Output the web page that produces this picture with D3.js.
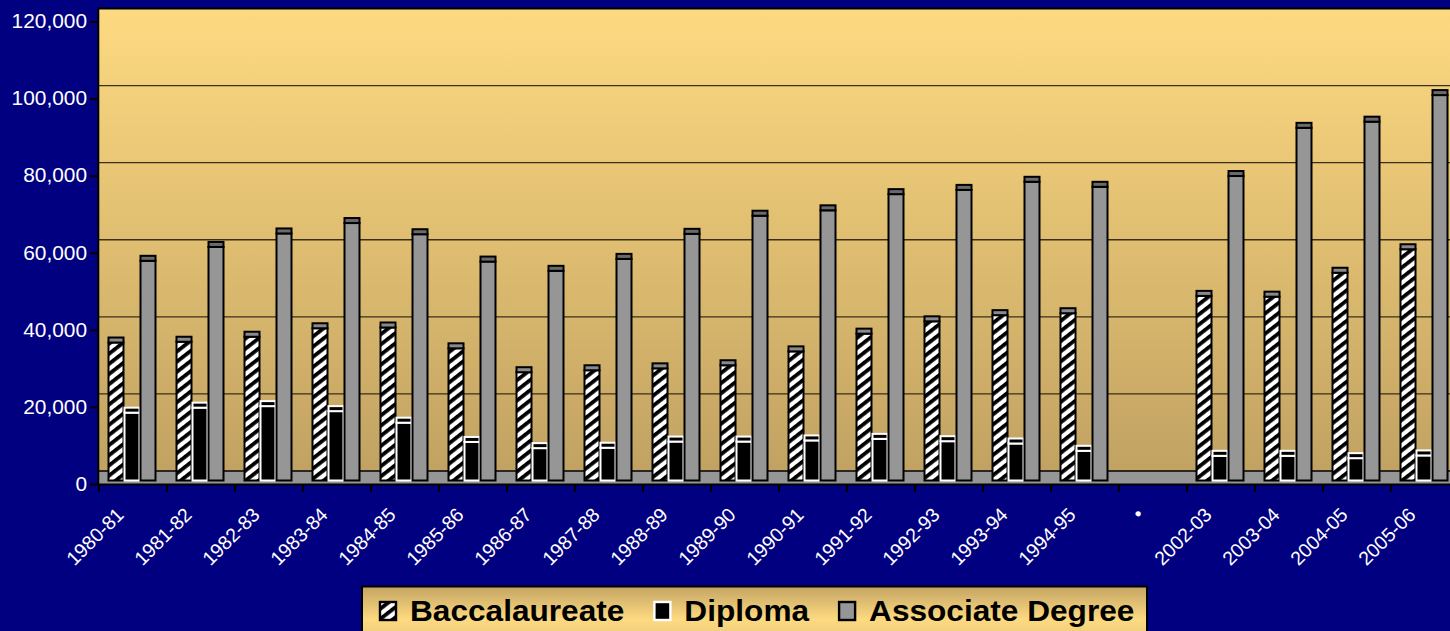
<!DOCTYPE html>
<html>
<head>
<meta charset="utf-8">
<script src="https://cdn.jsdelivr.net/npm/d3@7"></script>
<style>
  body { margin: 0; background: #000080; overflow: hidden; }
  text { font-family: Arial, "Liberation Sans", sans-serif; }
</style>
</head>
<body>
<svg id="chart" width="1450" height="631"></svg>
<script>
// values (gap category "•" has no bars)
const categories = ["1980-81","1981-82","1982-83","1983-84","1984-85","1985-86","1986-87","1987-88",
  "1988-89","1989-90","1990-91","1991-92","1992-93","1993-94","1994-95","•",
  "2002-03","2003-04","2004-05","2005-06"];
const baccalaureate = [35800,36000,37300,39500,39700,34300,28100,28600,29100,29900,33500,38100,
  41300,42900,43400,null,47900,47700,53900,60000];
const diploma = [17600,18900,19300,18000,15000,10000,8400,8500,10100,10100,10400,10800,
  10200,9600,7700,null,6400,6400,5800,6500];
const associate = [57000,60600,64100,66800,63900,56800,54400,57500,64000,68700,70100,74300,
  75400,77500,76200,null,79000,91500,93100,100000];
const seriesNames = ["Baccalaureate","Diploma","Associate Degree"];
const yTicks = [0,20000,40000,60000,80000,100000,120000];

const seriesValues = [baccalaureate, diploma, associate];
const style = {
  "Baccalaureate":    {fill: "url(#hatch)", stroke: "#000", cap: "#8a8a8a"},
  "Diploma":          {fill: "#000",        stroke: "#fff", cap: "#000"},
  "Associate Degree": {fill: "#969696",     stroke: "#000", cap: "#6a6a6a"}
};

const svg = d3.select("#chart"),
    width = +svg.attr("width"),
    height = +svg.attr("height");

const depth = 13;      // back wall offset of the 3d look
const inset = 3.5;     // bars stand a bit behind the front edge
const capH = 5;

const x = d3.scaleBand().domain(categories).range([99, 99 + 68 * categories.length]);
const x1 = d3.scaleBand().domain(seriesNames).range([9, 57]);
const y = d3.scaleLinear().domain([0, 120000]).range([484, 21.5]);

// the picture is a bit wider than plain Arial, so widen text a little
function stretch(sel, k) {
  sel.each(function() {
    const l = this.getComputedTextLength();
    this.setAttribute("textLength", l * k);
    this.setAttribute("lengthAdjust", "spacingAndGlyphs");
  });
}

svg.append("rect").attr("width", width).attr("height", height).attr("fill", "#000080");

const defs = svg.append("defs");
const wallGrad = defs.append("linearGradient").attr("id", "wall")
    .attr("x1", 0).attr("y1", 0).attr("x2", 0).attr("y2", 1);
wallGrad.append("stop").attr("offset", "0%").attr("stop-color", "#fdda81");
wallGrad.append("stop").attr("offset", "100%").attr("stop-color", "#c2a262");

const legGrad = defs.append("linearGradient").attr("id", "leg")
    .attr("x1", 0).attr("y1", 0).attr("x2", 0).attr("y2", 1);
legGrad.append("stop").attr("offset", "0%").attr("stop-color", "#c4a464");
legGrad.append("stop").attr("offset", "55%").attr("stop-color", "#fdda81");
legGrad.append("stop").attr("offset", "100%").attr("stop-color", "#e6c577");

const hatch = defs.append("pattern").attr("id", "hatch")
    .attr("patternUnits", "userSpaceOnUse")
    .attr("width", 8).attr("height", 8)
    .attr("patternTransform", "rotate(52)");
hatch.append("rect").attr("width", 8).attr("height", 8).attr("fill", "#fff");
hatch.append("rect").attr("width", 3.8).attr("height", 8).attr("fill", "#000");

const xRight = x.range()[1];

// back wall
svg.append("rect")
    .attr("x", 99).attr("y", y(120000) - depth)
    .attr("width", xRight - 99).attr("height", y(0) - y(120000))
    .attr("fill", "url(#wall)");

// gridlines on the back wall
svg.append("g").selectAll("line")
  .data(yTicks.filter(d => d > 0 && d < 120000))
  .enter().append("line")
    .attr("x1", 99).attr("x2", xRight)
    .attr("y1", d => y(d) - depth).attr("y2", d => y(d) - depth)
    .attr("stroke", "#3a3018").attr("stroke-width", 1.4);

// floor
svg.append("rect")
    .attr("x", 99).attr("y", y(0) - depth)
    .attr("width", xRight - 99).attr("height", depth)
    .attr("fill", "#969696");
svg.append("line")
    .attr("x1", 99).attr("x2", xRight)
    .attr("y1", y(0) - depth).attr("y2", y(0) - depth)
    .attr("stroke", "#000").attr("stroke-width", 1.5);

// bars
const base = y(0) - inset;
seriesNames.forEach((s, si) => {
  const st = style[s];
  const data = categories.map((c, i) => ({c: c, v: seriesValues[si][i]})).filter(d => d.v != null);
  const g = svg.append("g").attr("class", "series");
  const bar = g.selectAll("g").data(data).enter().append("g");
  bar.append("rect")
      .attr("x", d => x(d.c) + x1(s) + 0.5)
      .attr("y", d => y(d.v) - inset)
      .attr("width", 15)
      .attr("height", d => base - (y(d.v) - inset))
      .attr("fill", st.fill).attr("stroke", st.stroke).attr("stroke-width", 2);
  bar.append("rect")
      .attr("x", d => x(d.c) + x1(s) + 0.5)
      .attr("y", d => y(d.v) - inset - capH)
      .attr("width", 15)
      .attr("height", capH)
      .attr("fill", st.cap).attr("stroke", st.stroke).attr("stroke-width", 2);
});

// plot frame
svg.append("line").attr("x1", 98).attr("x2", xRight)
    .attr("y1", y(120000) - depth).attr("y2", y(120000) - depth)
    .attr("stroke", "#000").attr("stroke-width", 2);
svg.append("line").attr("x1", 98.3).attr("x2", 98.3)
    .attr("y1", y(120000) - depth - 1).attr("y2", y(0) + 1)
    .attr("stroke", "#000").attr("stroke-width", 2);
svg.append("line").attr("x1", 97).attr("x2", xRight)
    .attr("y1", y(0) + 0.5).attr("y2", y(0) + 0.5)
    .attr("stroke", "#000").attr("stroke-width", 2);

// y axis
const yAxis = svg.append("g")
    .attr("transform", "translate(99,0)")
    .call(d3.axisLeft(y).tickValues(yTicks).tickFormat(d3.format(",")).tickSize(9).tickPadding(3));
yAxis.select(".domain").remove();
yAxis.selectAll(".tick line").attr("stroke", "#000").attr("stroke-width", 2);
yAxis.selectAll(".tick text")
    .attr("fill", "#fff").attr("font-size", 19.5)
    .attr("font-family", "Arial, 'Liberation Sans', sans-serif")
    .call(stretch, 1.07);

// x ticks at category boundaries
svg.append("g").selectAll("line")
  .data(categories.concat([null]))
  .enter().append("line")
    .attr("x1", (d, i) => x.range()[0] + i * x.step())
    .attr("x2", (d, i) => x.range()[0] + i * x.step())
    .attr("y1", y(0)).attr("y2", y(0) + 8)
    .attr("stroke", "#000").attr("stroke-width", 2);

// x labels
svg.append("g").selectAll("text")
  .data(categories)
  .enter().append("text")
    .attr("transform", d => "translate(" + (x(d) + x.bandwidth() / 2 - 8) + ",516) rotate(-45)")
    .attr("text-anchor", "end")
    .attr("fill", "#fff")
    .attr("font-size", 19.5)
    .text(d => d);

// legend
const legend = svg.append("g");
legend.append("rect")
    .attr("x", 362).attr("y", 586.5)
    .attr("width", 785).attr("height", 60)
    .attr("fill", "url(#leg)").attr("stroke", "#000").attr("stroke-width", 2);

let lx = 380;
seriesNames.forEach(s => {
  const st = style[s];
  legend.append("rect")
      .attr("x", lx).attr("y", 602)
      .attr("width", 16).attr("height", 18)
      .attr("fill", st.fill).attr("stroke", st.stroke).attr("stroke-width", 2.4);
  const t = legend.append("text")
      .attr("x", lx + 30).attr("y", 620.5)
      .attr("font-size", 29).attr("font-weight", "bold")
      .attr("fill", "#000")
      .text(s);
  const len = t.node().getComputedTextLength() * 1.09;
  t.call(stretch, 1.09);
  lx = lx + 30 + len + 30;
});
</script>
</body>
</html>
